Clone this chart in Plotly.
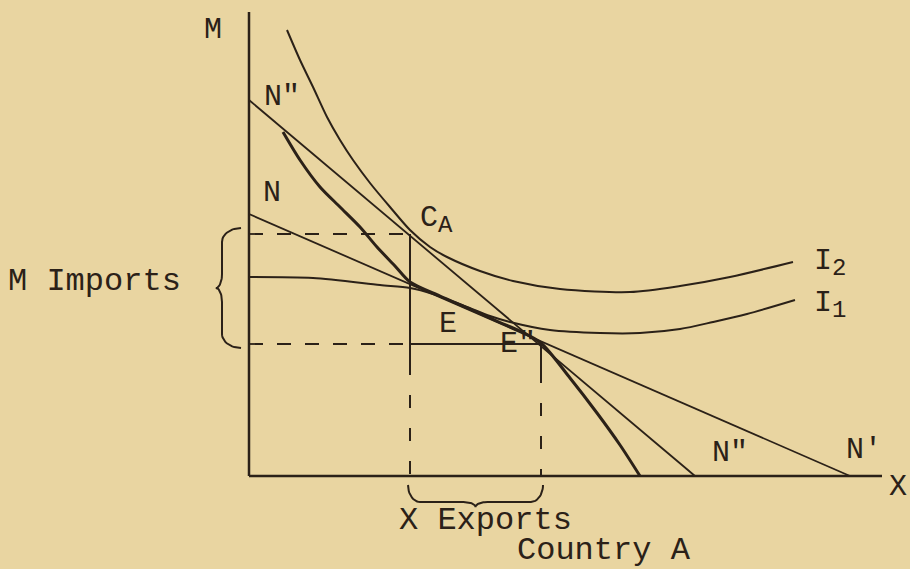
import numpy as np
import plotly.graph_objects as go

INK = "#2b2118"
PAPER = "#e9d5a1"
FONT = "Courier New, Liberation Mono, monospace"

# diagram units: origin where the two axes meet, x to the right, y upward
axis_x_end = 633
axis_y_top = 464

# price lines, by their intercepts on the M axis and on the X axis
line_N = (262, 601)    # N   -> N'
line_N2 = (376, 446)   # N'' -> N''

# community indifference curves
i2_x = [38, 51, 64, 78, 91, 104, 121, 141, 161, 181, 198, 231, 264, 311, 381, 431, 481, 544]
i2_y = [446, 416, 389, 359, 336, 316, 293, 269, 246, 229, 219, 205, 195, 187, 184, 190, 199, 214]
i1_x = [0, 64, 131, 161, 184, 218, 241, 261, 301, 351, 391, 431, 464, 498, 546]
i1_y = [199, 198, 191, 188, 182, 169, 160, 154, 146, 143, 143, 147, 154, 162, 176]

# the heavy curve down to the X axis
curve_x = [34, 51, 71, 91, 111, 128, 146, 161, 191, 221, 251, 271, 292, 321, 348, 371, 391]
curve_y = [344, 316, 289, 269, 249, 229, 210, 194, 180, 167, 153.5, 145, 133, 98, 63, 31, 0]

# consumption point C_A and production point E''
c_a = (161, 242)
e2 = (292, 132)


def brace(lo, hi, end, body, tip, bend, n=14):
    """Curly brace running from lo to hi; returns (along, across) lists."""
    mid = (lo + hi) / 2
    th = np.linspace(0, np.pi / 2, n)
    along = np.concatenate([
        lo + bend * (1 - np.cos(th)),
        mid - bend + bend * np.sin(th),
        mid + bend * (1 - np.cos(th)),
        hi - bend + bend * np.sin(th),
    ])
    across = np.concatenate([
        end + (body - end) * np.sin(th),
        body + (tip - body) * (1 - np.cos(th)),
        tip + (body - tip) * np.sin(th),
        body + (end - body) * (1 - np.cos(th)),
    ])
    return along.tolist(), across.tolist()


def seg(xs, ys, width=2, dash="solid", shape="linear"):
    return go.Scatter(x=xs, y=ys, mode="lines", hoverinfo="skip", showlegend=False,
                      line=dict(color=INK, width=width, dash=dash, shape=shape, smoothing=0.8))


def sub(base, s):
    return f"{base}<sub><span style='font-size:24px'>{s}</span></sub>"


traces = [
    # axes
    seg([0, 0], [axis_y_top, 0], 2.5),
    seg([0, axis_x_end], [0, 0], 2.5),
    # price lines
    seg([0, line_N[1]], [line_N[0], 0], 1.8),
    seg([0, line_N2[1]], [line_N2[0], 0], 1.8),
    # curves
    seg(i2_x, i2_y, 2, shape="spline"),
    seg(i1_x, i1_y, 2, shape="spline"),
    seg(curve_x, curve_y, 3, shape="spline"),
    # guides from C_A
    seg([0, c_a[0]], [c_a[1], c_a[1]], 1.8, "14px,14px"),
    seg([c_a[0], c_a[0]], [c_a[1], 114], 2),
    seg([c_a[0], c_a[0]], [114, 0], 2, "13px,20px"),
    # guides from E''
    seg([0, c_a[0]], [e2[1], e2[1]], 1.8, "14px,14px"),
    seg([c_a[0], e2[0]], [e2[1], e2[1]], 2),
    seg([e2[0], e2[0]], [e2[1], 106], 2),
    seg([e2[0], e2[0]], [106, 0], 2, "13px,20px"),
]

# braces for imports (on M axis) and exports (below X axis)
by, bx = brace(e2[1] - 4, c_a[1] + 6, -8, -27, -33, 14)
traces.append(seg(bx, by, 2))
bx2, by2 = brace(c_a[0] - 2, e2[0] + 2, -9, -26, -31, 12)
traces.append(seg(bx2, by2, 2))

fig = go.Figure(data=traces)

labels = [
    # text, x, y, size, xanchor
    ("M", -36, 446, 30, "center"),
    ('N"', 33, 379, 30, "center"),
    ("N", 23, 283, 30, "center"),
    (sub("C", "A"), 169, 256, 30, "left"),
    ("E", 199, 152, 30, "center"),
    ('E"', 249, 132, 30, "left"),
    (sub("I", "2"), 563, 213, 30, "left"),
    (sub("I", "1"), 563, 171, 30, "left"),
    ('N"', 481, 23, 30, "center"),
    ("N'", 615, 26, 30, "center"),
    ("X", 649, -11, 30, "center"),
    ("M Imports", -155, 195, 32, "center"),
    ("X Exports", 236, -44, 32, "center"),
    ("Country A", 355, -74, 32, "center"),
]
for text, x, y, size, xa in labels:
    fig.add_annotation(x=x, y=y, text=text, showarrow=False, xanchor=xa, yanchor="middle",
                       font=dict(family=FONT, size=size, color=INK))

fig.update_layout(
    width=910, height=569,
    margin=dict(l=0, r=0, t=0, b=0),
    paper_bgcolor=PAPER, plot_bgcolor=PAPER,
    xaxis=dict(range=[-249, 661], visible=False, fixedrange=True),
    yaxis=dict(range=[-93, 476], visible=False, fixedrange=True),
)

# drop the browser's default page margin so the figure sits at the corner
fig.write_html("out.html", config={"displayModeBar": False},
               post_script="document.body.style.margin='0';")
